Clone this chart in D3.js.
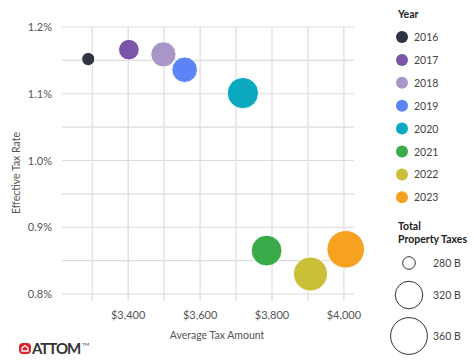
<!DOCTYPE html>
<html>
<head>
<meta charset="utf-8">
<script src="https://cdn.jsdelivr.net/npm/d3@7"></script>
<style>
  body { margin: 0; background: #fff; }
  text { font-family: Lato, "Open Sans", sans-serif; }
</style>
</head>
<body>
<svg id="chart" width="474" height="363"></svg>
<script>
// data
var years = [2016, 2017, 2018, 2019, 2020, 2021, 2022, 2023];
var avgTax = [3289, 3402, 3498, 3557, 3719, 3785, 3907, 4005];
var taxRate = [1.152, 1.166, 1.159, 1.136, 1.101, 0.865, 0.830, 0.867];
var totalTaxes = [281, 298, 312, 313, 335, 333, 347, 364];
var yearColors = ["#2f3442", "#7b55aa", "#a896c9", "#5b85f6", "#0ba8bf", "#3aab49", "#c9bf39", "#f6a11f"];

var xGrid = [3300, 3400, 3500, 3600, 3700, 3800, 3900, 4000];
var xLabels = [3400, 3600, 3800, 4000];
var yGrid = [0.8, 0.85, 0.9, 0.95, 1.0, 1.05, 1.1, 1.15, 1.2];
var yLabels = [0.8, 0.9, 1.0, 1.1, 1.2];
var sizeLegend = [280, 320, 360];

var svg = d3.select("#chart");

var x = d3.scaleLinear().domain([3216, 4028]).range([62, 354]);
var y = d3.scaleLinear().domain([0.8, 1.2]).range([294, 27]);
var r = d3.scaleRadial().domain([280, 360]).range([6.3, 18.4]);
var color = d3.scaleOrdinal().domain(years).range(yearColors);

var data = years.map(function(yr, i) {
  return {year: yr, tax: avgTax[i], rate: taxRate[i], total: totalTaxes[i]};
});

// grid
var grid = svg.append("g");
grid.selectAll(".hgrid").data(yGrid)
  .enter().append("line")
  .attr("x1", x.range()[0]).attr("x2", x.range()[1])
  .attr("y1", function(d) { return y(d); })
  .attr("y2", function(d) { return y(d); })
  .attr("stroke", "#dcdcdc").attr("stroke-width", 1.2);

grid.selectAll(".vgrid").data(xGrid)
  .enter().append("line")
  .attr("x1", function(d) { return x(d); })
  .attr("x2", function(d) { return x(d); })
  .attr("y1", y(1.2)).attr("y2", y(0.8) + 7)
  .attr("stroke", "#dcdcdc").attr("stroke-width", 1.2);

// tick labels
svg.append("g").selectAll("text").data(yLabels)
  .enter().append("text")
  .attr("x", 52)
  .attr("y", function(d) { return y(d) + 4; })
  .attr("text-anchor", "end")
  .attr("font-size", 11)
  .attr("fill", "#555")
  .text(function(d) { return d3.format(".1f")(d) + "%"; });

svg.append("g").selectAll("text").data(xLabels)
  .enter().append("text")
  .attr("x", function(d) { return x(d); })
  .attr("y", 319)
  .attr("text-anchor", "middle")
  .attr("font-size", 11)
  .attr("fill", "#555")
  .text(function(d) { return "$" + d3.format(",")(d); });

// axis titles
svg.append("text")
  .attr("x", 217).attr("y", 339)
  .attr("text-anchor", "middle")
  .attr("font-size", 10.5)
  .attr("fill", "#555")
  .text("Average Tax Amount");

svg.append("text")
  .attr("transform", "translate(" + [20, 173] + ") rotate(-90)")
  .attr("text-anchor", "middle")
  .attr("font-size", 10.5)
  .attr("fill", "#555")
  .text("Effective Tax Rate");

// bubbles
svg.append("g").selectAll("circle").data(data)
  .enter().append("circle")
  .attr("cx", function(d) { return x(d.tax); })
  .attr("cy", function(d) { return y(d.rate); })
  .attr("r", function(d) { return r(d.total); })
  .attr("fill", function(d) { return color(d.year); })
  .attr("stroke", "#fff")
  .attr("stroke-width", 1);

// year legend
var legend = svg.append("g");
legend.append("text")
  .attr("x", 398).attr("y", 18)
  .attr("font-size", 10.5).attr("font-weight", "bold")
  .attr("fill", "#222")
  .text("Year");

var items = legend.selectAll(".item").data(years)
  .enter().append("g")
  .attr("transform", function(d, i) { return "translate(" + [402, 37 + i * 22.9] + ")"; });
items.append("circle")
  .attr("r", 6)
  .attr("fill", function(d) { return color(d); });
items.append("text")
  .attr("x", 12).attr("y", 4)
  .attr("font-size", 10.5)
  .attr("fill", "#444")
  .text(function(d) { return d; });

// size legend
legend.append("text")
  .attr("x", 398).attr("y", 230)
  .attr("font-size", 10.5).attr("font-weight", "bold")
  .attr("fill", "#222")
  .text("Total");
legend.append("text")
  .attr("x", 398).attr("y", 243)
  .attr("font-size", 10.5).attr("font-weight", "bold")
  .attr("fill", "#222")
  .text("Property Taxes");

var sizeY = [263, 295, 336];
var sizes = legend.selectAll(".size").data(sizeLegend)
  .enter().append("g")
  .attr("transform", function(d, i) { return "translate(" + [409, sizeY[i]] + ")"; });
sizes.append("circle")
  .attr("r", function(d) { return r(d); })
  .attr("fill", "none")
  .attr("stroke", "#333")
  .attr("stroke-width", 1);
sizes.append("text")
  .attr("x", 24).attr("y", 4)
  .attr("font-size", 10.5)
  .attr("fill", "#444")
  .text(function(d) { return d + " B"; });

// ATTOM logo
var logo = svg.append("g").attr("transform", "translate(" + [19, 343] + ")");
logo.append("rect")
  .attr("width", 12).attr("height", 11).attr("rx", 4)
  .attr("fill", "#d7262e");
logo.append("path")
  .attr("d", "M3,8 L3,5 L6,2.5 L9,5 L9,8 Z")
  .attr("fill", "none").attr("stroke", "#fff").attr("stroke-width", 1.3);
var brand = logo.append("text")
  .attr("x", 13).attr("y", 11)
  .attr("font-size", 15).attr("font-weight", "bold")
  .attr("fill", "#333")
  .attr("letter-spacing", -1);
brand.append("tspan").text("ATTOM");
brand.append("tspan")
  .attr("dx", 2).attr("dy", -8)
  .attr("font-size", 4.5).attr("font-weight", "normal")
  .attr("letter-spacing", 0)
  .text("TM");
</script>
</body>
</html>
